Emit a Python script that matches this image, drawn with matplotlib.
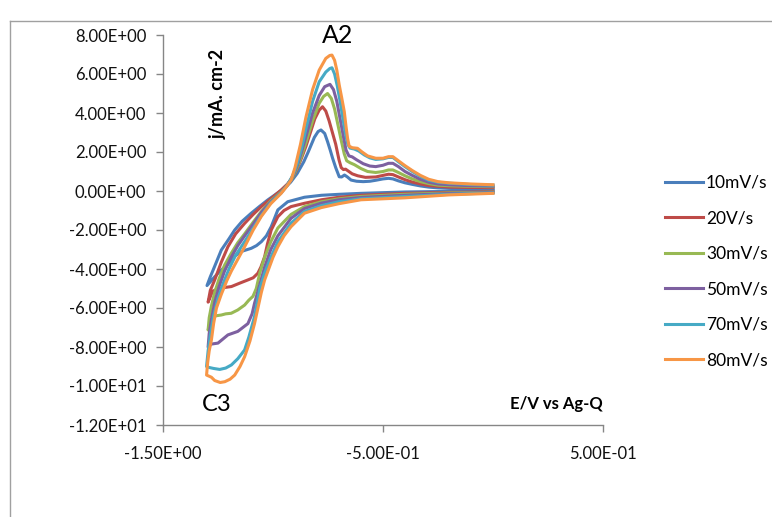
import matplotlib
matplotlib.use('Agg')
import matplotlib.pyplot as plt
from matplotlib.lines import Line2D

# Voltammogrammes cycliques a differentes vitesses de balayage
labels = ['10mV/s', '20V/s', '30mV/s', '50mV/s', '70mV/s', '80mV/s']
colors = ['#4A7EBB', '#BE4B48', '#98B954', '#7D60A0', '#46AAC5', '#F79646']

E_10 = [0.0, -0.2, -0.4, -0.6, -0.7, -0.78, -0.857, -0.933, -0.978, -1.008, -1.03, -1.053, -1.075, -1.099,
        -1.144, -1.175, -1.205, -1.24, -1.265, -1.30,
        -1.285, -1.272, -1.235, -1.2, -1.174, -1.14, -1.099, -1.06, -1.024, -0.985, -0.948, -0.92, -0.89, -0.86,
        -0.84, -0.812, -0.795, -0.782, -0.765, -0.752, -0.74, -0.729, -0.715, -0.699, -0.688, -0.675, -0.662,
        -0.645, -0.62, -0.59, -0.56, -0.533, -0.5, -0.475, -0.455, -0.43, -0.4, -0.367, -0.33, -0.292, -0.25,
        -0.2, -0.1, 0.0]
J_10 = [0.0, -0.02, -0.05, -0.12, -0.17, -0.22, -0.32, -0.55, -0.97, -1.83, -2.3, -2.6, -2.8, -2.94,
        -3.1, -3.35, -3.75, -4.1, -4.4, -4.85,
        -4.4, -4.05, -3.03, -2.45, -2.0, -1.55, -1.14, -0.78, -0.46, -0.15, 0.14, 0.45, 0.9, 1.5,
        2.0, 2.75, 3.05, 3.13, 2.95, 2.53, 2.1, 1.68, 1.2, 0.73, 0.72, 0.82, 0.72,
        0.56, 0.5, 0.48, 0.5, 0.55, 0.62, 0.65, 0.62, 0.52, 0.42, 0.34, 0.26, 0.2, 0.16,
        0.14, 0.12, 0.11]

E_20 = [0.0, -0.2, -0.4, -0.6, -0.7, -0.78, -0.857, -0.918, -0.95, -0.978, -1.008, -1.025, -1.038, -1.055,
        -1.069, -1.09, -1.114, -1.15, -1.189, -1.22, -1.25, -1.275, -1.295,
        -1.285, -1.265, -1.235, -1.205, -1.17, -1.129, -1.09, -1.053, -1.01, -0.963, -0.935, -0.91, -0.89,
        -0.87, -0.85, -0.83, -0.81, -0.79, -0.775, -0.76, -0.745, -0.73, -0.715, -0.7, -0.69, -0.68, -0.67,
        -0.655, -0.64, -0.615, -0.58, -0.533, -0.5, -0.475, -0.455, -0.43, -0.4, -0.367, -0.33, -0.292,
        -0.25, -0.2, -0.1, 0.0]
J_20 = [-0.04, -0.07, -0.12, -0.22, -0.32, -0.45, -0.63, -0.8, -1.0, -1.32, -2.0, -2.7, -3.37, -3.9,
        -4.22, -4.45, -4.56, -4.72, -4.9, -4.95, -5.0, -5.15, -5.7,
        -5.1, -4.56, -3.65, -2.86, -2.2, -1.66, -1.2, -0.8, -0.4, 0.05, 0.35, 0.7, 1.15,
        1.7, 2.3, 3.0, 3.7, 4.15, 4.32, 4.1, 3.6, 3.0, 2.4, 1.6, 1.2, 1.1, 1.12,
        1.0, 0.88, 0.78, 0.7, 0.72, 0.8, 0.86, 0.84, 0.72, 0.58, 0.46, 0.36, 0.28,
        0.24, 0.2, 0.18, 0.17]

E_30 = [0.0, -0.2, -0.4, -0.6, -0.7, -0.78, -0.857, -0.918, -0.978, -1.01, -1.038, -1.06, -1.076, -1.091,
        -1.11, -1.129, -1.16, -1.19, -1.215, -1.235, -1.26, -1.28, -1.295,
        -1.29, -1.28, -1.265, -1.245, -1.22, -1.19, -1.16, -1.129, -1.09, -1.053, -1.01, -0.963, -0.935,
        -0.91, -0.89, -0.87, -0.85, -0.82, -0.79, -0.77, -0.752, -0.735, -0.72, -0.705, -0.69, -0.676,
        -0.665, -0.65, -0.63, -0.6, -0.57, -0.533, -0.5, -0.475, -0.455, -0.43, -0.4, -0.367, -0.33,
        -0.292, -0.25, -0.2, -0.1, 0.0]
J_30 = [-0.06, -0.1, -0.17, -0.28, -0.4, -0.55, -0.8, -1.2, -1.9, -2.6, -3.4, -4.2, -5.0, -5.4,
        -5.6, -5.85, -6.1, -6.27, -6.3, -6.36, -6.4, -6.6, -7.13,
        -6.5, -5.9, -5.2, -4.5, -3.8, -3.2, -2.65, -2.2, -1.6, -1.05, -0.5, -0.05, 0.3,
        0.7, 1.2, 1.8, 2.5, 3.6, 4.5, 4.85, 5.0, 4.75, 4.2, 3.4, 2.6, 1.9,
        1.55, 1.45, 1.35, 1.15, 1.0, 0.95, 1.0, 1.08, 1.08, 0.95, 0.78, 0.62, 0.48,
        0.38, 0.3, 0.27, 0.24, 0.22]

E_50 = [0.0, -0.2, -0.4, -0.6, -0.7, -0.78, -0.857, -0.918, -0.978, -1.01, -1.038, -1.06, -1.084, -1.095,
        -1.114, -1.16, -1.205, -1.25, -1.28, -1.295,
        -1.29, -1.28, -1.265, -1.245, -1.22, -1.19, -1.16, -1.129, -1.09, -1.053, -1.01, -0.963, -0.935,
        -0.91, -0.89, -0.87, -0.85, -0.82, -0.79, -0.765, -0.741, -0.725, -0.71, -0.695, -0.68, -0.668,
        -0.655, -0.64, -0.62, -0.59, -0.56, -0.533, -0.5, -0.475, -0.455, -0.43, -0.4, -0.367, -0.33,
        -0.292, -0.25, -0.2, -0.1, 0.0]
J_50 = [-0.08, -0.13, -0.22, -0.33, -0.45, -0.62, -0.9, -1.4, -2.3, -3.0, -3.9, -4.8, -5.76, -6.3,
        -6.8, -7.2, -7.38, -7.8, -7.85, -8.0,
        -7.3, -6.6, -5.7, -4.9, -4.1, -3.4, -2.8, -2.3, -1.7, -1.1, -0.55, -0.08, 0.3,
        0.75, 1.3, 2.0, 2.8, 4.0, 4.9, 5.35, 5.47, 5.2, 4.6, 3.7, 2.8, 2.1,
        1.8, 1.75, 1.6, 1.4, 1.28, 1.25, 1.32, 1.42, 1.42, 1.25, 1.0, 0.8, 0.6,
        0.45, 0.36, 0.32, 0.27, 0.25]

E_70 = [0.0, -0.2, -0.4, -0.6, -0.7, -0.78, -0.857, -0.918, -0.978, -1.01, -1.038, -1.06, -1.084, -1.11,
        -1.129, -1.16, -1.189, -1.215, -1.242, -1.27, -1.29, -1.302,
        -1.295, -1.285, -1.27, -1.25, -1.225, -1.2, -1.17, -1.129, -1.09, -1.053, -1.01, -0.963, -0.935,
        -0.91, -0.89, -0.87, -0.85, -0.82, -0.79, -0.76, -0.742, -0.732, -0.72, -0.708, -0.695, -0.682,
        -0.67, -0.66, -0.65, -0.63, -0.61, -0.585, -0.56, -0.533, -0.5, -0.475, -0.455, -0.43, -0.4,
        -0.367, -0.33, -0.292, -0.25, -0.2, -0.1, 0.0]
J_70 = [-0.1, -0.17, -0.28, -0.4, -0.55, -0.75, -1.05, -1.65, -2.6, -3.4, -4.2, -5.0, -6.44, -7.5,
        -8.15, -8.6, -8.92, -9.08, -9.15, -9.1, -9.05, -9.0,
        -8.2, -7.4, -6.4, -5.5, -4.7, -4.0, -3.3, -2.6, -1.9, -1.25, -0.6, -0.1, 0.3,
        0.8, 1.4, 2.2, 3.2, 4.6, 5.6, 6.1, 6.28, 6.32, 6.0, 5.4, 4.6, 3.7,
        2.9, 2.4, 2.2, 2.15, 2.05, 1.85, 1.7, 1.62, 1.65, 1.72, 1.72, 1.5, 1.25,
        1.0, 0.75, 0.55, 0.45, 0.4, 0.33, 0.3]

E_80 = [0.0, -0.2, -0.4, -0.6, -0.7, -0.78, -0.857, -0.918, -0.95, -0.978, -1.0, -1.038, -1.053, -1.084,
        -1.105, -1.129, -1.15, -1.174, -1.195, -1.219, -1.24, -1.265, -1.28, -1.302,
        -1.297, -1.29, -1.28, -1.27, -1.257, -1.235, -1.21, -1.189, -1.16, -1.129, -1.09, -1.053, -1.01,
        -0.963, -0.94, -0.918, -0.9, -0.875, -0.85, -0.82, -0.79, -0.76, -0.742, -0.732, -0.72, -0.71,
        -0.699, -0.688, -0.676, -0.668, -0.661, -0.654, -0.64, -0.616, -0.595, -0.57, -0.533, -0.5,
        -0.475, -0.455, -0.43, -0.4, -0.367, -0.33, -0.292, -0.25, -0.2, -0.1, 0.0]
J_80 = [-0.12, -0.2, -0.35, -0.45, -0.65, -0.85, -1.14, -1.83, -2.3, -2.86, -3.4, -4.56, -5.2, -6.8,
        -7.7, -8.5, -9.0, -9.44, -9.65, -9.78, -9.82, -9.72, -9.55, -9.44,
        -8.8, -8.2, -7.64, -6.8, -6.0, -5.3, -4.6, -4.1, -3.5, -2.86, -2.0, -1.3, -0.65,
        -0.12, 0.2, 0.56, 1.2, 2.4, 3.8, 5.2, 6.2, 6.8, 6.95, 6.97, 6.7, 6.2,
        5.44, 4.8, 4.07, 3.3, 2.7, 2.3, 2.22, 2.19, 2.0, 1.8, 1.68, 1.68,
        1.76, 1.76, 1.55, 1.3, 1.05, 0.8, 0.6, 0.48, 0.42, 0.36, 0.32]

E_series = [E_10, E_20, E_30, E_50, E_70, E_80]
J_series = [J_10, J_20, J_30, J_50, J_70, J_80]

x_ticks = [-1.5, -0.5, 0.5]
y_ticks = [-12, -10, -8, -6, -4, -2, 0, 2, 4, 6, 8]
x_tick_labels = ['-1.50E+00', '-5.00E-01', '5.00E-01']
y_tick_labels = ['-1.20E+01', '-1.00E+01', '-8.00E+00', '-6.00E+00', '-4.00E+00', '-2.00E+00',
                 '0.00E+00', '2.00E+00', '4.00E+00', '6.00E+00', '8.00E+00']

plt.rcParams['font.family'] = ['Lato', 'DejaVu Sans']

W, H = 772, 517
fig = plt.figure(figsize=(W / 100, H / 100), dpi=100)
ax = fig.add_axes([163 / W, 92 / H, 440 / W, 390 / H])

for E, J, c, lab in zip(E_series, J_series, colors, labels):
    ax.plot(E, J, color=c, lw=2.2, label=lab, solid_joinstyle='round')

ax.set_xlim(-1.5, 0.5)
ax.set_ylim(-12, 8)
ax.set_xticks(x_ticks)
ax.set_xticklabels(x_tick_labels)
ax.set_yticks(y_ticks)
ax.set_yticklabels(y_tick_labels)

axcol = '#868686'
for s in ['top', 'right']:
    ax.spines[s].set_visible(False)
for s in ['left', 'bottom']:
    ax.spines[s].set_color(axcol)
    ax.spines[s].set_linewidth(1)
ax.tick_params(direction='out', length=5, width=1, color=axcol, labelsize=12, labelcolor='#111111')
ax.tick_params(axis='x', pad=10)
ax.tick_params(axis='y', pad=7)

# annotations
ax.text(-0.705, 7.95, 'A2', fontsize=18, ha='center', va='center', clip_on=False)
ax.text(-1.257, -10.97, 'C3', fontsize=17, ha='center', va='center', clip_on=False)
ax.text(0.286, -10.9, 'E/V vs Ag-Q', fontsize=12, fontweight='bold', ha='center', va='center',
        clip_on=False)
ax.text(-1.248, 5.0, 'j/mA. cm-2', fontsize=13, fontweight='bold', rotation=90,
        ha='center', va='center', clip_on=False)

ax.legend(loc='upper left', bbox_to_anchor=(665 / W, 1 - 175 / H), bbox_transform=fig.transFigure,
          frameon=False, fontsize=12.5, handlelength=2.19, handletextpad=0.17, labelspacing=1.12,
          borderpad=0, borderaxespad=0)

# chart area border
bx, by = 10 / W, 1 - 21 / H
fig.add_artist(Line2D([bx, 1.0], [by, by], transform=fig.transFigure, color='#a0a0a0', lw=1))
fig.add_artist(Line2D([bx, bx], [0, by], transform=fig.transFigure, color='#a0a0a0', lw=1))

fig.savefig('out.png', dpi=100)
